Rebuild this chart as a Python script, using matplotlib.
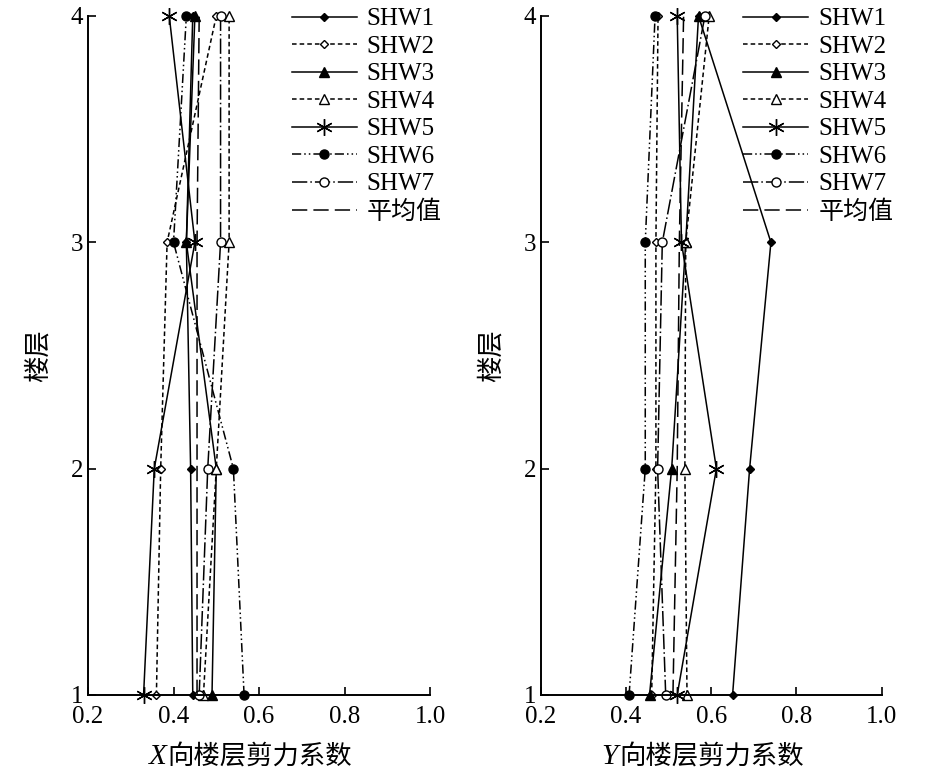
import matplotlib
matplotlib.use("Agg")
import matplotlib.pyplot as plt

plt.rcParams['font.family'] = ['Liberation Serif', 'Noto Sans CJK SC']
plt.rcParams['font.size'] = 13

floors = [1, 2, 3, 4]
names = ["SHW1", "SHW2", "SHW3", "SHW4", "SHW5", "SHW6", "SHW7", "平均值"]

# X direction storey shear coefficients (floor 1..4)
x_vals = [
    [0.445, 0.44, 0.43, 0.445],   # SHW1
    [0.36, 0.37, 0.385, 0.50],    # SHW2
    [0.49, 0.50, 0.43, 0.45],     # SHW3
    [0.47, 0.50, 0.53, 0.53],     # SHW4
    [0.33, 0.355, 0.45, 0.39],    # SHW5
    [0.565, 0.54, 0.40, 0.43],    # SHW6
    [0.46, 0.48, 0.51, 0.51],     # SHW7
    [0.455, 0.455, 0.455, 0.46],  # mean
]
# Y direction storey shear coefficients
y_vals = [
    [0.65, 0.69, 0.74, 0.57],
    [0.46, 0.47, 0.47, 0.475],
    [0.455, 0.507, 0.54, 0.57],
    [0.543, 0.538, 0.54, 0.595],
    [0.52, 0.612, 0.53, 0.52],
    [0.407, 0.445, 0.445, 0.468],
    [0.493, 0.474, 0.485, 0.585],
    [0.51, 0.52, 0.525, 0.535],
]

styles = [
    dict(ls='-', marker='D', mfc='k', ms=4.5),
    dict(ls=(0, (3, 2)), marker='D', mfc='w', ms=4.5),
    dict(ls='-', marker='^', mfc='k', ms=6.5),
    dict(ls=(0, (3, 2)), marker='^', mfc='w', ms=6.5),
    dict(ls='-', marker=(6, 2, 0), mfc='k', ms=12),
    dict(ls=(0, (6, 2, 1, 2, 1, 2)), marker='o', mfc='k', ms=6.5),
    dict(ls=(0, (10, 2, 1, 2)), marker='o', mfc='w', ms=6.5),
    dict(ls=(0, (10, 4)), marker=None),
]

fig = plt.figure(figsize=(9.31, 7.76), dpi=100)
ax1 = fig.add_axes([0.0945, 0.1044, 0.3675, 0.875])
ax2 = fig.add_axes([0.581, 0.1044, 0.366, 0.875])

for ax, data, lab in [(ax1, x_vals, "X"), (ax2, y_vals, "Y")]:
    for name, vals, st in zip(names, data, styles):
        ax.plot(vals, floors, color='k', lw=1.1, mec='k', clip_on=False, label=name, **st)
    ax.set_xlim(0.2, 1.0)
    ax.set_ylim(1, 4)
    ax.set_xticks([0.2, 0.4, 0.6, 0.8, 1.0])
    ax.set_xticklabels(["0.2", "0.4", "0.6", "0.8", "1.0"])
    ax.set_yticks(floors)
    ax.tick_params(direction='in', labelsize=18, length=6, width=1.2)
    ax.tick_params(axis='x', pad=8)
    ax.spines['top'].set_visible(False)
    ax.spines['right'].set_visible(False)
    for s in ['left', 'bottom']:
        ax.spines[s].set_linewidth(1.4)
    ax.set_ylabel("楼层", fontsize=19, labelpad=14)
    ax.legend(loc='upper right', bbox_to_anchor=(1.1, 1.045), frameon=False, fontsize=18,
              handlelength=2.6, labelspacing=0.2, handletextpad=0.4)
    # x label: italic letter + Chinese text
    pos = ax.get_position()
    cx = (pos.x0 + pos.x1) / 2
    fig.text(cx - 0.118, 0.008, lab, fontsize=21, style='italic', ha='left', va='bottom',
             family='Liberation Serif')
    fig.text(cx - 0.099, 0.008, "向楼层剪力系数", fontsize=19, ha='left', va='bottom')

fig.savefig("out.png", dpi=100)
